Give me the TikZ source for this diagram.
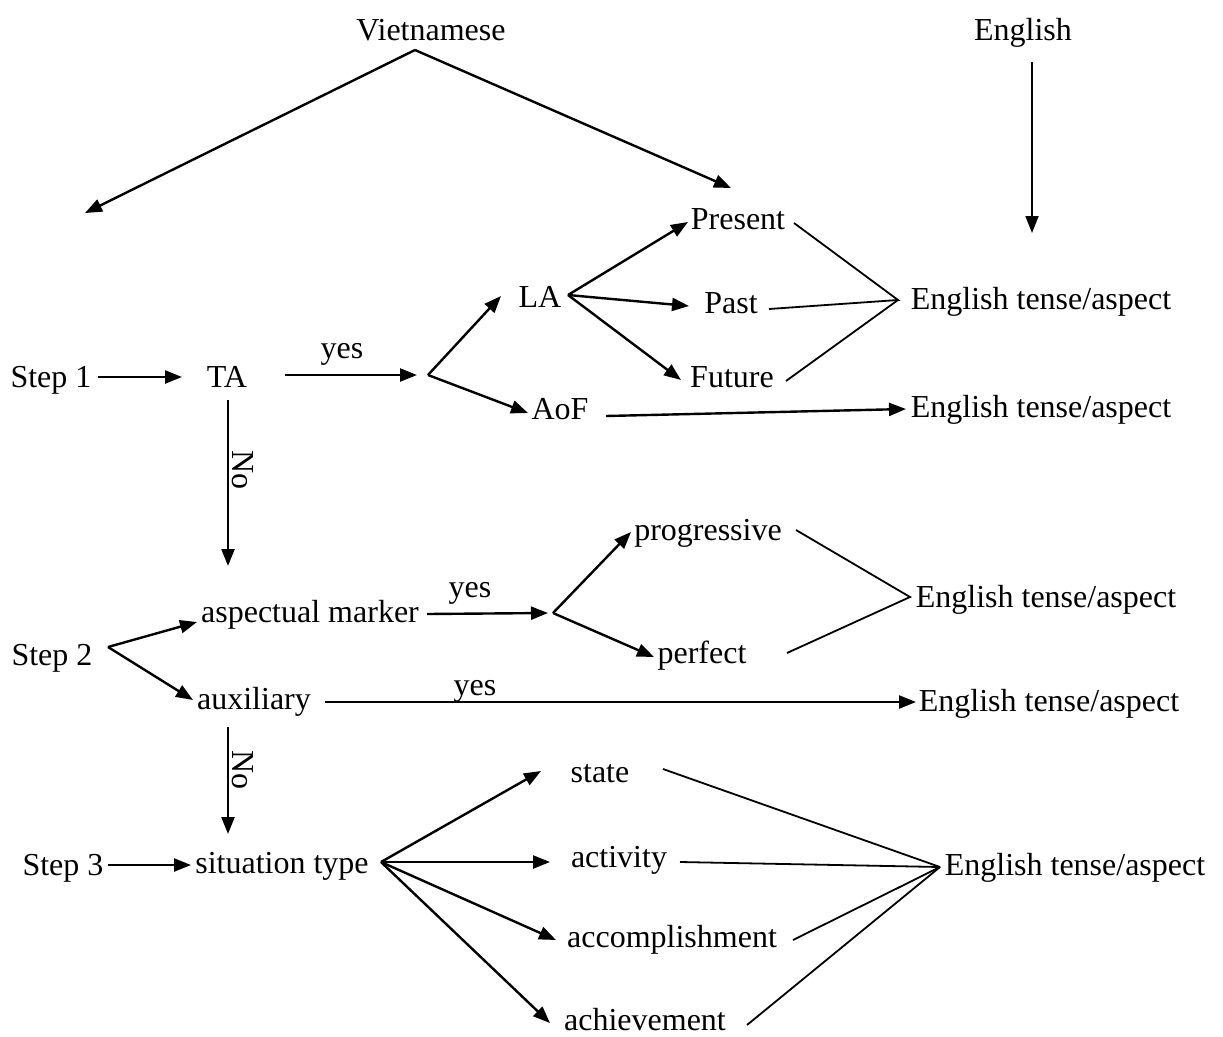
\documentclass[tikz,border=0pt]{standalone}
\usepackage{fontspec}
\setmainfont{Liberation Serif}
\usetikzlibrary{arrows.meta}
\begin{document}
\begin{tikzpicture}[x=1pt,y=-1pt,
  lbl/.style={inner sep=0pt,anchor=base,font=\fontsize{32}{38}\selectfont},
  arr/.style={line width=2.4pt,-{Triangle[length=17pt,width=13pt]}},
  ln/.style={line width=1.8pt}]
\useasboundingbox (0,0) rectangle (1223,1036);
% text nodes
\node[lbl] (viet) at (431,40) {Vietnamese};
\node[lbl] (eng) at (1023,40) {English};
\node[lbl] (present) at (738,229) {Present};
\node[lbl] (LA) at (540,307) {LA};
\node[lbl] (past) at (731,313) {Past};
\node[lbl] (future) at (732,387) {Future};
\node[lbl] (ET1) at (1041,309) {English tense/aspect};
\node[lbl] (AoF) at (560,419) {AoF};
\node[lbl] (ET2) at (1041,417) {English tense/aspect};
\node[lbl] (step1) at (51,387) {Step 1};
\node[lbl] (TA) at (227,387) {TA};
\node[lbl] (yes1) at (342,358) {yes};
\node[lbl,rotate=-90,anchor=center] (no1) at (243,470) {No};
\node[lbl] (asp) at (310,622) {aspectual marker};
\node[lbl] (yes2) at (470,597) {yes};
\node[lbl] (prog) at (708,540) {progressive};
\node[lbl] (perf) at (702,663) {perfect};
\node[lbl] (ET3) at (1046,607) {English tense/aspect};
\node[lbl] (step2) at (52,665) {Step 2};
\node[lbl] (aux) at (254,709) {auxiliary};
\node[lbl] (yes3) at (475,695) {yes};
\node[lbl] (ET4) at (1049,711) {English tense/aspect};
\node[lbl,rotate=-90,anchor=center] (no2) at (243,770) {No};
\node[lbl] (step3) at (63,875) {Step 3};
\node[lbl] (sit) at (282,873) {situation type};
\node[lbl] (state) at (600,782) {state};
\node[lbl] (act) at (619,867) {activity};
\node[lbl] (acc) at (672,947) {accomplishment};
\node[lbl] (ach) at (645,1030) {achievement};
\node[lbl] (ET5) at (1075,875) {English tense/aspect};
% coordinates
\coordinate (vapex) at (415,50);
\coordinate (vleft) at (85,213);
\coordinate (vright) at (731,188);
\coordinate (engtop) at (1032,62);
\coordinate (engbot) at (1032,233);
\coordinate (s1e) at (98,377);
\coordinate (TAw) at (182,377);
\coordinate (TAe) at (285,375);
\coordinate (b1in) at (417,375);
\coordinate (b1) at (428,375);
\coordinate (LAw) at (501,296);
\coordinate (AoFw) at (528,413);
\coordinate (LAe) at (568,295);
\coordinate (presw) at (688,222);
\coordinate (pastw) at (689,306);
\coordinate (futw) at (681,380);
\coordinate (prese) at (794,223);
\coordinate (paste) at (769,309);
\coordinate (fute) at (786,381);
\coordinate (j1) at (898,300);
\coordinate (AoFe) at (606,416);
\coordinate (ET2w) at (906,409);
\coordinate (TAs) at (228,400);
\coordinate (aspn) at (228,566);
\coordinate (s2e) at (108,647);
\coordinate (aspw) at (197,622);
\coordinate (auxw) at (193,700);
\coordinate (aspe) at (427,614);
\coordinate (b2in) at (548,613);
\coordinate (b2) at (553,613);
\coordinate (progw) at (631,532);
\coordinate (perfw) at (654,657);
\coordinate (proge) at (796,530);
\coordinate (perfe) at (787,653);
\coordinate (j3) at (910,597);
\coordinate (auxe) at (325,702);
\coordinate (ET4w) at (916,702);
\coordinate (auxs) at (228,727);
\coordinate (sitn) at (228,834);
\coordinate (s3e) at (108,865);
\coordinate (sitw) at (191,865);
\coordinate (site) at (381,862);
\coordinate (statew) at (541,771);
\coordinate (actw) at (550,862);
\coordinate (accw) at (556,940);
\coordinate (achw) at (550,1023);
\coordinate (statee) at (663,769);
\coordinate (acte) at (680,862);
\coordinate (acce) at (793,940);
\coordinate (ache) at (747,1025);
\coordinate (j5) at (940,867);
% connectors
\draw[arr] (vapex) -- (vleft);
\draw[arr] (vapex) -- (vright);
\draw[arr,line width=1.8pt] (engtop) -- (engbot);
\draw[arr] (s1e) -- (TAw);
\draw[arr] (TAe) -- (b1in);
\draw[arr] (b1) -- (LAw);
\draw[arr] (b1) -- (AoFw);
\draw[arr] (LAe) -- (presw);
\draw[arr] (LAe) -- (pastw);
\draw[arr] (LAe) -- (futw);
\draw[ln] (prese) -- (j1) -- (paste);
\draw[ln] (fute) -- (j1);
\draw[arr] (AoFe) -- (ET2w);
\draw[arr] (TAs) -- (aspn);
\draw[arr] (s2e) -- (aspw);
\draw[arr] (s2e) -- (auxw);
\draw[arr] (aspe) -- (b2in);
\draw[arr] (b2) -- (progw);
\draw[arr] (b2) -- (perfw);
\draw[ln] (proge) -- (j3) -- (perfe);
\draw[arr] (auxe) -- (ET4w);
\draw[arr] (auxs) -- (sitn);
\draw[arr] (s3e) -- (sitw);
\draw[arr] (site) -- (statew);
\draw[arr] (site) -- (actw);
\draw[arr] (site) -- (accw);
\draw[arr] (site) -- (achw);
\draw[ln] (statee) -- (j5);
\draw[ln] (acte) -- (j5);
\draw[ln] (acce) -- (j5);
\draw[ln] (ache) -- (j5);
\end{tikzpicture}
\end{document}
